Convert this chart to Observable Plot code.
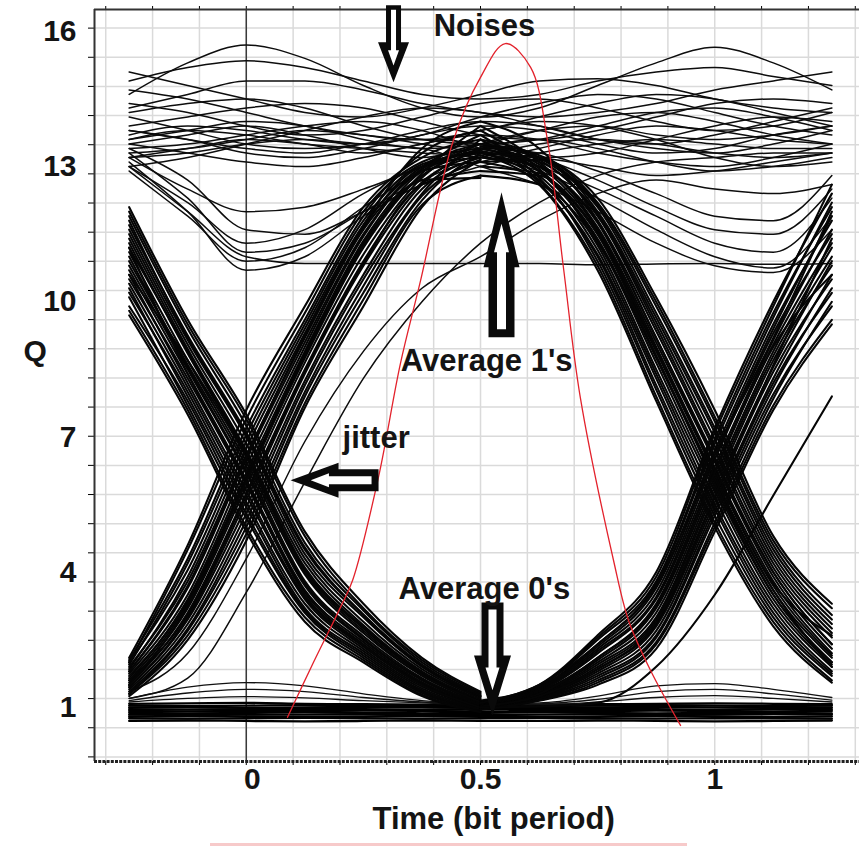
<!DOCTYPE html>
<html><head><meta charset="utf-8">
<script src="https://cdn.jsdelivr.net/npm/d3@7"></script>
<script src="https://cdn.jsdelivr.net/npm/@observablehq/plot@0.6"></script>
<style>
html,body{margin:0;padding:0;background:#fff;}
#wrap{position:relative;width:859px;height:846px;overflow:hidden;background:#fff;}
#wm{position:absolute;left:210px;top:843px;width:477px;height:3px;background:#f7caca;}
</style></head>
<body><div id="wrap"></div>
<script>
// ---------------- data ----------------
const yTickLabels = [1, 4, 7, 10, 13, 16];
const xTickLabels = [0, 0.5, 1];
const xKnotsLeft = [-0.25, -0.125, 0, 0.125, 0.25, 0.375, 0.5];
const xKnotsRight = [0.5, 0.625, 0.75, 0.875, 1, 1.125, 1.25];
const xKnotsFull = [-0.25, -0.125, 0, 0.125, 0.25, 0.375, 0.5, 0.625, 0.75, 0.875, 1, 1.125, 1.25];

// 1 -> 0 transitions around t = 0
const leftFalling = [
[9.7,7.5,4.9,2.9,2.0,1.25,0.9],[9.8,7.6,5.0,3.0,2.05,1.28,0.92],[10.1,7.7,5.2,3.1,2.1,1.32,0.94],
[9.9,7.8,5.3,3.15,2.15,1.35,0.95],[10.3,7.9,5.45,3.2,2.2,1.38,0.96],[10.2,8.0,5.55,3.3,2.25,1.42,0.97],
[10.4,8.1,5.7,3.4,2.3,1.46,0.99],[10.6,8.2,5.8,3.45,2.35,1.5,1.0],[10.5,8.3,5.95,3.55,2.4,1.53,1.02],
[10.7,8.4,6.05,3.6,2.45,1.56,1.03],[10.8,8.5,6.2,3.7,2.5,1.6,1.05],[11.0,8.55,6.25,3.75,2.53,1.62,1.06],
[10.9,8.6,6.35,3.8,2.58,1.65,1.08],[11.1,8.7,6.45,3.95,2.65,1.7,1.1],[11.3,8.85,6.6,4.05,2.75,1.75,1.14],
[11.2,8.9,6.65,4.1,2.78,1.77,1.15],[11.4,8.95,6.7,4.2,2.82,1.8,1.17],[11.5,9.05,6.85,4.3,2.9,1.85,1.2],
[11.6,9.15,7.0,4.4,3.0,1.9,1.23],[11.8,9.2,7.05,4.5,3.05,1.93,1.25],[11.7,9.25,7.1,4.55,3.06,1.95,1.26],
[11.9,9.4,7.25,4.65,3.15,2.0,1.29],[12.0,9.5,7.4,4.8,3.2,2.05,1.32],[12.1,9.6,7.5,4.9,3.3,2.1,1.35],
[11.2,8.4,6.0,3.5,2.38,1.5,1.0],[10.6,8.7,6.55,4.0,2.7,1.72,1.12]
];
// 0 -> 1 transitions around t = 0
const leftRising = [
[2.1,4.6,7.6,9.9,12.1,13.2,13.6],[2.0,4.5,7.4,9.75,12.0,13.1,13.4],[2.05,4.3,7.2,9.6,11.9,13.3,13.8],
[1.95,4.2,7.05,9.5,11.8,13.05,13.3],[2.0,4.05,6.9,9.4,11.7,13.0,13.5],[1.85,3.9,6.75,9.3,11.65,13.0,13.2],
[1.9,3.8,6.6,9.2,11.6,12.95,13.7],[1.8,3.65,6.5,9.1,11.5,12.95,13.35],[1.75,3.5,6.35,9.0,11.45,12.9,13.1],
[1.65,3.4,6.2,8.9,11.35,12.9,13.35],[1.7,3.35,6.1,8.85,11.3,12.85,13.9],[1.6,3.3,6.05,8.75,11.2,12.8,13.3],
[1.55,3.2,5.9,8.65,11.05,12.75,13.5],[1.5,3.1,5.75,8.5,10.9,12.65,13.25],[1.6,3.05,5.7,8.45,10.85,12.6,12.9],
[1.45,3.0,5.6,8.4,10.8,12.6,13.4],[1.45,2.95,5.45,8.25,10.6,12.5,13.2],[1.4,2.85,5.3,8.15,10.5,12.4,13.6],
[1.35,2.75,5.15,8.0,10.35,12.35,13.15],[1.3,2.7,5.0,7.9,10.2,12.25,13.3],[1.3,2.6,4.85,7.75,10.05,12.15,12.8],
[1.25,2.5,4.7,7.65,9.9,12.1,13.15],[1.8,3.7,6.55,9.25,11.7,13.4,14.0],[1.5,3.25,6.0,8.8,11.25,12.7,12.75]
];
// 1 -> 0 transitions around t = 1
const rightFalling = [
[13.25,12.6,10.7,7.8,5.0,2.8,1.55],[13.6,12.65,10.8,7.9,5.1,2.9,1.6],[13.1,12.7,10.9,8.05,5.25,3.0,1.7],
[13.3,12.7,11.0,8.15,5.4,3.1,1.75],[13.7,12.75,11.05,8.3,5.5,3.2,1.8],[13.3,12.8,11.15,8.4,5.65,3.3,1.9],
[13.0,12.85,11.25,8.5,5.8,3.4,1.95],[13.5,12.9,11.35,8.65,5.9,3.5,2.0],[13.4,12.9,11.4,8.75,6.05,3.6,2.1],
[13.8,12.95,11.5,8.9,6.2,3.7,2.15],[13.4,13.0,11.6,9.0,6.3,3.8,2.2],[13.2,13.0,11.65,9.1,6.45,3.9,2.3],
[13.45,13.05,11.75,9.2,6.55,4.0,2.4],[13.9,13.1,11.8,9.35,6.7,4.1,2.55],[13.3,13.1,11.9,9.45,6.8,4.2,2.65],
[13.5,13.15,11.95,9.55,6.95,4.3,2.75],[13.1,13.15,12.0,9.65,7.1,4.4,2.85],[13.6,13.2,12.1,9.75,7.2,4.5,2.95],
[13.45,13.2,12.15,9.9,7.35,4.6,3.05],[13.3,13.2,12.2,10.0,7.45,4.7,3.2],[13.5,13.25,12.3,10.1,7.6,4.8,3.3],
[12.8,12.6,11.3,8.8,6.0,3.5,2.0],[14.0,13.4,11.8,9.2,6.5,4.0,2.4],[13.35,12.9,11.55,8.95,6.25,3.75,2.6],
[12.9,12.8,11.5,8.8,6.1,3.6,1.9]
];
// 0 -> 1 transitions around t = 1
const rightRising = [
[1.15,1.5,2.6,4.0,7.2,10.0,12.4],[1.12,1.48,2.55,3.9,7.1,9.9,12.6],[1.1,1.46,2.5,3.8,6.95,9.75,12.1],
[1.13,1.44,2.4,3.75,6.85,9.65,12.2],[1.1,1.42,2.35,3.65,6.7,9.5,11.8],[1.08,1.4,2.3,3.55,6.6,9.4,11.9],
[1.1,1.38,2.25,3.45,6.5,9.3,11.5],[1.07,1.36,2.2,3.4,6.35,9.15,11.6],[1.06,1.34,2.1,3.3,6.25,9.05,11.3],
[1.05,1.32,2.05,3.2,6.1,8.9,11.2],[1.05,1.3,2.0,3.1,6.0,8.8,11.0],[1.04,1.28,1.95,3.0,5.9,8.7,10.8],
[1.03,1.27,1.9,2.95,5.8,8.55,10.9],[1.02,1.26,1.85,2.85,5.65,8.45,10.5],[1.01,1.24,1.8,2.8,5.55,8.3,10.6],
[1.0,1.22,1.75,2.7,5.45,8.2,10.2],[0.99,1.21,1.7,2.6,5.35,8.1,10.3],[0.98,1.2,1.65,2.55,5.25,7.95,9.9],
[0.97,1.18,1.6,2.45,5.1,7.85,10.0],[0.96,1.16,1.55,2.4,5.0,7.7,9.6],[0.95,1.15,1.5,2.3,4.9,7.6,9.5],
[1.1,1.5,2.4,3.7,6.6,9.2,12.0],[1.0,1.3,2.1,3.25,6.2,9.0,10.6],[1.02,1.25,1.85,2.9,5.7,8.6,11.4],
[1.0,1.02,1.1,1.9,3.5,5.7,7.9]
];
// long "1" level traces (noise) across the whole window
const highTraces = [
[14.6,15.3,15.7,15.4,14.8,14.3,14.1,14.3,14.8,15.3,15.65,15.3,14.7],
[14.9,15.2,15.35,15.2,14.9,14.6,14.5,14.6,14.9,15.1,15.2,15.0,14.8],
[15.1,14.8,14.5,14.2,14.1,14.3,14.6,14.9,14.95,14.8,14.5,14.3,14.2],
[14.3,14.6,14.9,14.9,14.7,14.4,14.2,14.1,14.2,14.4,14.7,14.9,15.1],
[14.4,14.2,13.9,13.7,13.8,14.1,14.4,14.5,14.3,14.0,13.8,13.9,14.2],
[13.9,14.1,14.3,14.4,14.3,14.0,13.7,13.6,13.8,14.1,14.4,14.5,14.4],
[14.1,13.8,13.5,13.4,13.5,13.8,14.0,13.9,13.6,13.4,13.3,13.5,13.8],
[13.6,13.8,14.0,13.9,13.6,13.4,13.5,13.8,14.1,14.2,14.0,13.7,13.5],
[13.4,13.5,13.7,13.9,14.0,13.8,13.4,13.2,13.3,13.6,13.9,14.1,14.0],
[13.8,13.6,13.3,13.2,13.4,13.7,13.9,13.8,13.5,13.3,13.4,13.7,13.9],
[13.2,13.4,13.6,13.5,13.3,13.5,13.8,14.0,13.9,13.6,13.2,13.0,13.1],
[14.7,14.5,14.2,13.9,13.7,13.6,13.8,14.1,14.4,14.6,14.5,14.2,13.9],
[13.0,13.2,13.5,13.8,14.1,14.3,14.2,13.9,13.6,13.5,13.7,14.0,14.3],
[13.5,13.3,13.1,13.0,13.2,13.5,13.7,13.6,13.3,13.1,13.0,13.2,13.5],
[14.2,14.4,14.5,14.3,13.9,13.6,13.5,13.6,13.9,14.2,14.3,14.1,13.8],
[13.7,13.9,13.8,13.6,13.5,13.7,14.1,14.4,14.6,14.5,14.2,13.9,13.7],
[13.1,12.0,10.7,11.0,11.9,12.6,13.0,13.3,13.5,13.6,13.5,13.4,13.4],
[13.3,12.3,11.1,11.3,12.0,12.7,13.2,13.5,13.6,13.5,13.3,13.2,13.3],
[12.9,11.9,10.9,11.2,12.1,12.9,13.4,13.6,13.4,13.1,12.9,13.0,13.2],
[13.4,12.7,11.6,11.5,12.0,12.6,13.1,13.4,13.7,13.9,13.8,13.6,13.5],
[13.0,12.2,11.3,11.6,12.4,13.0,13.3,13.2,13.0,12.8,12.9,13.1,13.3],
[13.2,12.5,12.0,12.1,12.5,13.0,13.5,13.8,13.9,13.7,13.6,13.7,13.9],
[13.6,13.8,13.7,13.5,13.4,13.3,13.2,12.9,12.3,11.6,11.0,10.75,11.9],
[13.3,13.4,13.6,13.8,13.7,13.5,13.3,13.0,12.5,11.9,11.3,11.1,12.3],
[13.8,13.6,13.4,13.3,13.5,13.6,13.5,13.2,12.7,12.1,11.6,11.5,12.5],
[13.5,13.7,13.9,13.7,13.4,13.2,13.4,13.3,12.9,12.4,11.9,11.8,12.8],
[13.2,13.3,13.5,13.6,13.5,13.4,13.0,12.6,12.0,11.3,10.8,10.65,11.6],
[13.0,12.0,11.0,10.85,10.85,10.85,10.85,10.85,10.82,10.84,10.85,10.83,10.85],
[1.2,1.65,3.55,6.0,8.3,10.0,11.3,12.2,12.8,13.1,13.2,13.3,13.3],
[1.35,2.2,4.3,6.9,8.9,10.3,11.0,11.8,12.4,12.7,12.5,12.4,12.6]
];
// "0" level traces
const lowTraces = [
[0.7,0.71,0.7,0.69,0.7,0.71,0.7,0.7,0.71,0.7,0.69,0.7,0.71],
[0.76,0.75,0.76,0.77,0.76,0.75,0.76,0.77,0.76,0.75,0.76,0.76,0.75],
[0.8,0.81,0.8,0.79,0.8,0.81,0.8,0.79,0.8,0.81,0.8,0.79,0.8],
[0.84,0.85,0.84,0.84,0.85,0.84,0.83,0.84,0.85,0.84,0.84,0.85,0.84],
[0.88,0.87,0.88,0.89,0.88,0.87,0.88,0.89,0.88,0.87,0.88,0.88,0.87],
[0.92,0.91,0.92,0.92,0.93,0.92,0.91,0.92,0.92,0.93,0.92,0.91,0.92],
[0.96,0.95,0.96,0.97,0.96,0.95,0.96,0.96,0.97,0.96,0.95,0.96,0.96],
[1.0,1.0,0.99,1.0,1.01,1.0,0.99,1.0,1.0,1.01,1.0,0.99,1.0],
[1.04,1.03,1.04,1.05,1.04,1.03,1.02,1.03,1.04,1.05,1.04,1.03,1.04],
[1.08,1.09,1.1,1.08,1.07,1.06,1.05,1.06,1.07,1.08,1.09,1.08,1.07]
];
const lowBumps = [
[1.2,1.45,1.55,1.48,1.3,1.15,1.08,1.1,1.25,1.48,1.53,1.4,1.22],
[1.15,1.32,1.4,1.35,1.22,1.12,1.07,1.08,1.18,1.35,1.4,1.3,1.16],
[1.12,1.2,1.24,1.21,1.15,1.1,1.06,1.06,1.12,1.22,1.26,1.2,1.12]
];
// red noise-distribution curve
const redT = [0.088,0.143,0.201,0.227,0.282,0.329,0.372,0.442,0.5,0.553,0.607,0.643,0.677,0.713,0.784,0.816,0.863,0.927];
const redQ = [0.78,1.99,3.22,3.82,6.1,8.63,10.47,13.58,14.98,15.73,15.2,13.58,10.76,7.88,4.26,2.93,1.82,0.6];

// ---------------- build ----------------
const rows = [];
const add = (group, knots, traces) => traces.forEach((t, i) =>
  t.forEach((q, k) => rows.push({group, id: group + i, x: knots[k], q})));
add("lf", xKnotsLeft, leftFalling);
add("lr", xKnotsLeft, leftRising);
add("rf", xKnotsRight, rightFalling);
add("rr", xKnotsRight, rightRising);
const transRows = rows.splice(0);
add("hi", xKnotsFull, highTraces);
const highRows = rows.splice(0);
add("lo", xKnotsFull, lowTraces);
const lowRows = rows.splice(0);
add("lb", xKnotsFull, lowBumps);
const bumpRows = rows.splice(0);
const redRows = redT.map((t, i) => ({x: t, q: redQ[i]}));

const xDomain = [-0.324, 1.309];
const yDomain = [-0.2, 16.485];
const gridX = d3.range(-3, 14).map(i => i / 10);
const gridQ = d3.range(26).map(i => 16.072 - i * 0.6468);

function blockArrow(L, sw, hw, hl, dir, inner) {
  return {draw(ctx) {
    let pts;
    if (!inner) pts = [[-sw/2,-L],[sw/2,-L],[sw/2,-hl],[hw/2,-hl],[0,0],[-hw/2,-hl],[-sw/2,-hl]];
    else {
      const [t, iw] = inner, hb = -hl * 0.8, tp = -hl * 0.42;
      pts = [[-iw/2,-L+t],[iw/2,-L+t],[iw/2,hb],[iw/2+3,hb],[0,tp],[-iw/2-3,hb],[-iw/2,hb]];
    }
    const tr = dir === "down" ? ([x, y]) => [x, y] : dir === "up" ? ([x, y]) => [x, -y] : ([x, y]) => [-y, x];
    pts.map(tr).forEach(([x, y], i) => i ? ctx.lineTo(x, y) : ctx.moveTo(x, y));
    ctx.closePath();
  }};
}
const arrows = [
  {x: 0.3143, q: 14.87, spec: [77, 15, 31, 40, "down"], inner: [4.5, 5]},
  {x: 0.5448, q: 12.43, spec: [145, 26, 36, 75, "up"], inner: [8, 9]},
  {x: 0.0945, q: 6.04, spec: [88, 22, 35, 48, "left"], inner: [7, 8]},
  {x: 0.5256, q: 0.82, spec: [113, 22, 37, 60, "down"], inner: [7, 8]}
];
const arrowMarks = arrows.flatMap(a => [
  Plot.dot([a], {x: "x", y: "q", symbol: blockArrow(...a.spec), fill: "#0a0a0a", stroke: "none"}),
  Plot.dot([a], {x: "x", y: "q", symbol: blockArrow(...a.spec, a.inner), fill: "white", stroke: "none"})
]);

const font = "'Liberation Sans', Arial, Helvetica, sans-serif";
const txt = {fontFamily: font, fontWeight: "bold", fill: "#141414"};

const chart = Plot.plot({
  width: 859, height: 846,
  marginLeft: 94, marginRight: 0, marginTop: 9, marginBottom: 85,
  style: {background: "transparent", fontFamily: font},
  x: {domain: xDomain, axis: "both", ticks: gridX, tickSize: 4, tickFormat: () => "", label: null},
  y: {domain: yDomain, ticks: gridQ, tickSize: 6, tickFormat: () => "", label: null},
  marks: [
    Plot.ruleX(gridX, {stroke: "#dadada", strokeWidth: 1.5}),
    Plot.ruleY(gridQ, {stroke: "#dadada", strokeWidth: 1.5}),
    Plot.ruleX([0], {stroke: "#3a3a3a", strokeWidth: 1.5}),
    Plot.ruleX([xDomain[0]], {stroke: "#333", strokeWidth: 2}),
    Plot.ruleY([yDomain[1]], {stroke: "#333", strokeWidth: 2}),
    Plot.ruleY([yDomain[0]], {stroke: "#222", strokeWidth: 3, strokeDasharray: "3,1.2"}),
    Plot.line(lowRows, {x: "x", y: "q", z: "id", stroke: "#000", strokeWidth: 2.3, curve: "monotone-x"}),
    Plot.line(bumpRows, {x: "x", y: "q", z: "id", stroke: "#111", strokeWidth: 1.3, curve: "monotone-x"}),
    Plot.line(highRows, {x: "x", y: "q", z: "id", stroke: "#0d0d0d", strokeWidth: 1.5, curve: "monotone-x"}),
    Plot.line(transRows, {x: "x", y: "q", z: "id", stroke: "#050505", strokeWidth: 2.1, curve: "monotone-x"}),
    Plot.line(redRows, {x: "x", y: "q", stroke: "#e3222c", strokeWidth: 1.3, curve: "catmull-rom"}),
    ...arrowMarks,
    Plot.text(yTickLabels, {y: d => d, text: d => String(d), frameAnchor: "left", dx: -18, textAnchor: "end", fontSize: 30, ...txt}),
    Plot.text([0], {x: d => d, text: d => String(d), frameAnchor: "bottom", dy: 27, dx: 6, fontSize: 30, ...txt}),
    Plot.text(xTickLabels.slice(1), {x: d => d, text: d => String(d), frameAnchor: "bottom", dy: 27, fontSize: 30, ...txt}),
    Plot.text(["Q"], {y: 8.91, frameAnchor: "left", dx: -71, fontSize: 30, ...txt}),
    Plot.text(["Time (bit period)"], {x: 0.528, frameAnchor: "bottom", dy: 67, fontSize: 31, ...txt}),
    Plot.text(["Noises"], {x: 0.4, y: 16.12, textAnchor: "start", fontSize: 31, ...txt}),
    Plot.text(["Average 1's"], {x: 0.33, y: 8.69, textAnchor: "start", fontSize: 31, ...txt}),
    Plot.text(["jitter"], {x: 0.2055, y: 6.98, textAnchor: "start", fontSize: 31, ...txt}),
    Plot.text(["Average 0's"], {x: 0.325, y: 3.63, textAnchor: "start", fontSize: 31, ...txt})
  ]
});
const wrap = document.getElementById("wrap");
wrap.appendChild(chart);
const wm = document.createElement("div"); wm.id = "wm"; wrap.appendChild(wm);
</script>
</body></html>
